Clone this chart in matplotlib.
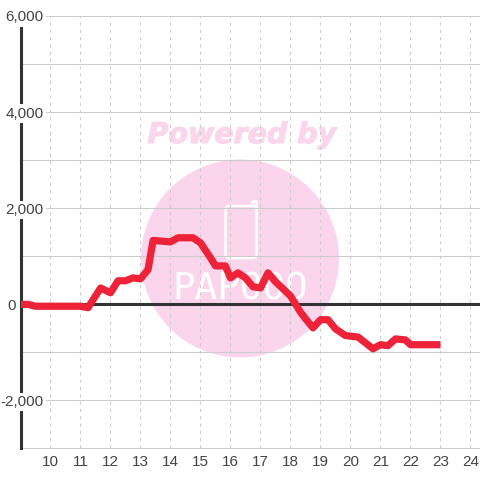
import matplotlib
matplotlib.use("Agg")
import matplotlib.pyplot as plt
import matplotlib.patheffects as pe
from matplotlib.lines import Line2D
from matplotlib.patches import Circle, FancyBboxPatch

hours = [9.0, 9.25, 9.5, 10, 10.5, 11, 11.25, 11.67, 12, 12.25, 12.5, 12.75, 13, 13.25, 13.42,
         14, 14.25, 14.75, 15, 15.33, 15.5, 15.83, 16, 16.25, 16.5, 16.75, 17, 17.25, 17.5,
         18, 18.33, 18.5, 18.75, 19, 19.25, 19.5, 19.83, 20.25, 20.75, 21, 21.25, 21.5,
         21.83, 22, 23]
values = [0, 0, -40, -40, -40, -40, -70, 340, 240, 490, 490, 550, 530, 720, 1330,
          1300, 1385, 1385, 1280, 970, 800, 800, 550, 655, 550, 365, 340, 655, 470,
          175, -160, -300, -490, -320, -320, -510, -650, -680, -925, -840, -860, -720,
          -740, -840, -840]

x_ticks = list(range(10, 25))
y_labelled = [-2000, 0, 2000, 4000, 6000]
y_labels = ["-2,000", "0", "2,000", "4,000", "6,000"]
y_lines = [-3000, -2000, -1000, 0, 1000, 2000, 3000, 4000, 5000, 6000]

GRID = "#cccccc"
DARK = "#333333"
RED = "#ee2238"
PINK = "#fbd5ec"
W = 480.0

plt.rcParams["font.family"] = ["Liberation Sans", "DejaVu Sans"]

fig = plt.figure(figsize=(4.8, 4.8), dpi=100, facecolor="white")
ax = fig.add_axes([20.5 / W, 1 - 448.5 / W, 459.5 / W, 432.5 / W])
ax.patch.set_visible(False)
ax.set_xlim(9, 24.317)
ax.set_ylim(-3000, 6000)


def px(x, y):
    return x / W, 1 - y / W


# watermark sits behind the axes, in figure coordinates
fig.add_artist(Circle(px(240, 258.5), 99 / W, transform=fig.transFigure,
                      facecolor=PINK, edgecolor="none", zorder=-5))
fig.text(*px(242, 135), "Powered by", color=PINK, fontsize=20.5, family="DejaVu Sans",
         weight="bold", style="italic", ha="center", va="center", zorder=-4,
         path_effects=[pe.withStroke(linewidth=0.8, foreground=PINK)])
fig.add_artist(FancyBboxPatch(px(225.5, 258), 31 / W, 52 / W, boxstyle="round,pad=0,rounding_size=0.008",
                              transform=fig.transFigure, facecolor="none", edgecolor="white",
                              linewidth=1.8, zorder=-4))
tab = [px(252, 206), px(252, 201), px(256, 201), px(256, 215)]
fig.add_artist(Line2D([p[0] for p in tab], [p[1] for p in tab], transform=fig.transFigure,
                      color="white", linewidth=1.8, zorder=-4))
fig.text(*px(240, 289), "PAPOOO", color="white", fontsize=27, family="DejaVu Sans Mono",
         ha="center", va="center", zorder=-4)

ax.hlines(y_lines, 9, 24.317, color=GRID, linewidth=0.75, zorder=0.3)
ax.vlines(x_ticks, -3000, 6000, color=GRID, linewidth=0.75, linestyles=(0, (3, 4)), zorder=0.3)

for name in ["top", "right", "bottom"]:
    ax.spines[name].set_visible(False)
ax.spines["left"].set_color(DARK)
ax.spines["left"].set_linewidth(2.2)
ax.spines["left"].set_zorder(0.4)

ax.set_axisbelow(True)
ax.set_xticks(x_ticks)
ax.set_yticks(y_labelled, y_labels)
ax.tick_params(axis="both", length=0, labelsize=11, labelcolor="#444444")
ax.tick_params(axis="x", pad=5)
ax.tick_params(axis="y", pad=-16.5)
for tick, value in zip(ax.yaxis.get_major_ticks(), y_labelled):
    tick.label1.set_bbox(dict(facecolor="white", edgecolor="none", pad=1.5))
    if value == 0:
        tick.set_pad(3)
        tick.label1.set_bbox(None)

ax.axhline(0, color=DARK, linewidth=2.2, zorder=2)
ax.plot(hours, values, color=RED, linewidth=5.2, solid_joinstyle="round",
        solid_capstyle="butt", zorder=3)

fig.savefig("out.png", dpi=100)
plt.close(fig)
